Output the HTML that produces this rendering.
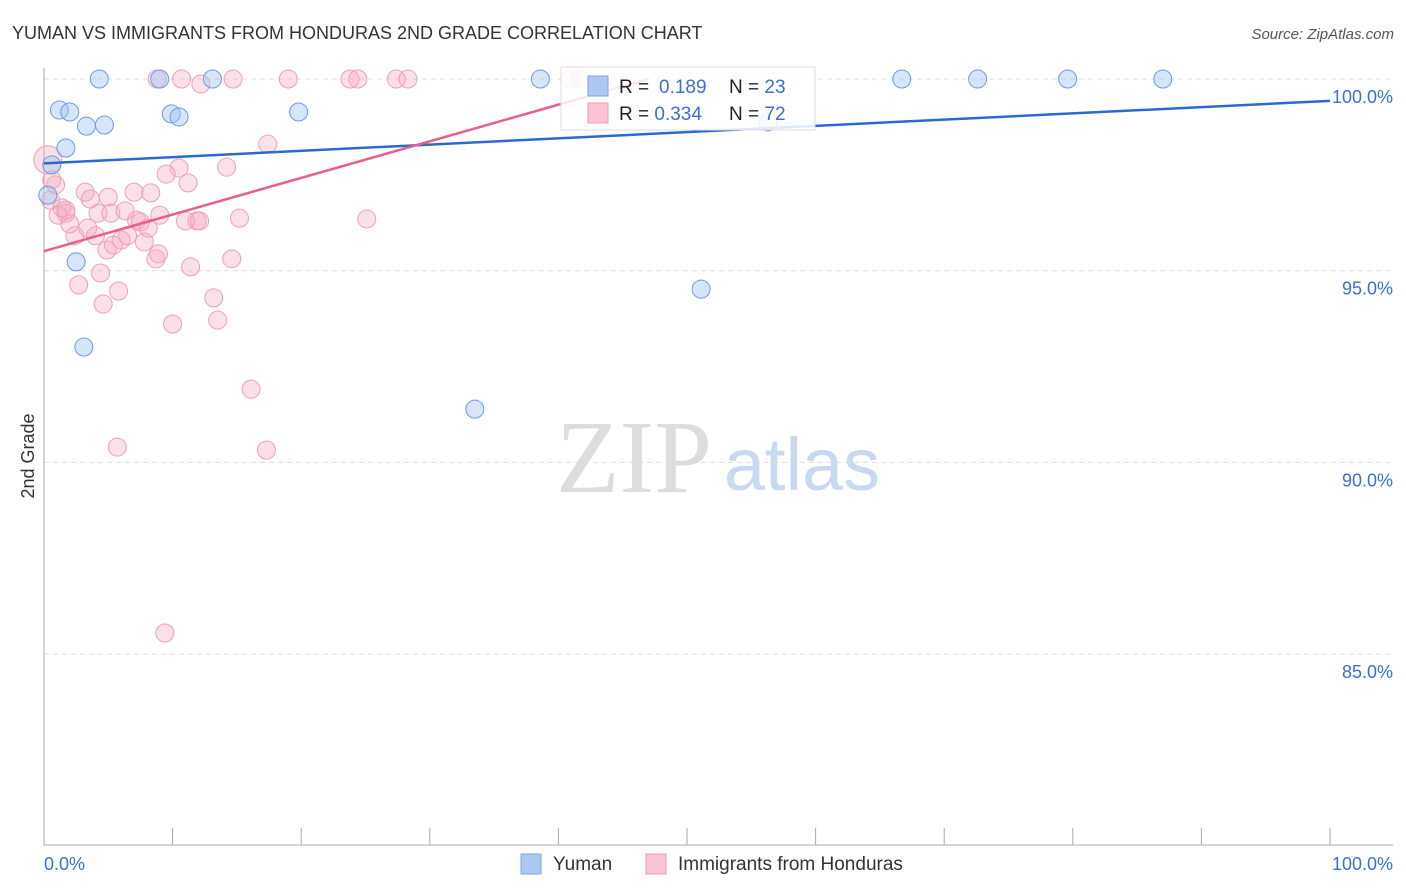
<!DOCTYPE html>
<html><head><meta charset="utf-8"><style>
body{margin:0;background:#fff;font-family:"Liberation Sans",sans-serif;}
svg{display:block}
</style></head><body>
<svg id="chart" width="1406" height="892">
<text x="12" y="39" font-size="18" fill="#333">YUMAN VS IMMIGRANTS FROM HONDURAS 2ND GRADE CORRELATION CHART</text>
<text x="1394" y="39" font-size="15" fill="#555" font-style="italic" text-anchor="end">Source: ZipAtlas.com</text>
<text x="634" y="492" font-size="104" fill="#ddd" font-family="Liberation Serif,serif" text-anchor="middle">ZIP</text>
<text x="802" y="490" font-size="74" fill="#c9daf0" text-anchor="middle">atlas</text>
<text transform="translate(34,456) rotate(-90)" font-size="18" fill="#333" text-anchor="middle">2nd Grade</text>
<g id="grid"></g><g id="marks"></g>
<g>
<rect x="561" y="67" width="254" height="63" fill="#fff" fill-opacity="0.85" stroke="#ddd"/>
<rect x="588" y="76" width="20" height="20" fill="#aac8f2" stroke="#7aa6e4"/>
<rect x="588" y="103" width="20" height="20" fill="#fbc4d4" stroke="#f09ab4"/>
<text x="619" y="93" font-size="19" fill="#222">R = <tspan fill="#3a70d0" x="659">0.189</tspan></text>
<text x="729" y="93" font-size="19" fill="#222">N = <tspan fill="#3a70d0">23</tspan></text>
<text x="619" y="120" font-size="19" fill="#222">R = <tspan fill="#3a70d0">0.334</tspan></text>
<text x="729" y="120" font-size="19" fill="#222">N = <tspan fill="#3a70d0">72</tspan></text>
</g>
<g>
<rect x="521" y="854" width="20" height="20" fill="#aac8f2" stroke="#7aa6e4"/>
<text x="553" y="870" font-size="19" fill="#333">Yuman</text>
<rect x="646" y="854" width="20" height="20" fill="#fbc4d4" stroke="#f09ab4"/>
<text x="678" y="870" font-size="19" fill="#333">Immigrants from Honduras</text>
</g>
</svg>
<script>
const yTicks=[100,95,90,85];
const yTickLabels=["100.0%","95.0%","90.0%","85.0%"];
const xTicks=[0,10,20,30,40,50,60,70,80,90,100];
const blueX=[4.3,9.0,13.1,38.6,66.7,72.6,79.6,87.0,1.2,2.0,3.3,4.7,9.9,10.5,19.8,56.3,1.7,0.6,0.3,2.5,3.1,51.1,33.5];
const blueY=[100,100,100,100,100,100,100,100,99.19,99.14,98.77,98.80,99.09,99.01,99.14,98.88,98.20,97.76,96.97,95.23,93.01,94.52,91.39];
const pinkX=[8.8,10.7,14.7,19.0,23.8,24.4,27.4,28.3,40.9,41.7,12.2,17.4,14.2,10.5,9.5,11.2,7.0,8.3,3.2,3.6,5.0,0.9,0.6,0.3,0.5,1.4,1.1,1.7,2.0,2.4,4.2,5.2,6.3,7.2,7.5,9.0,11.0,11.9,12.1,15.2,25.1,4.0,4.9,5.4,6.0,6.5,7.8,8.7,8.9,4.4,2.7,5.8,4.6,13.2,10.0,13.5,14.6,11.4,16.1,17.3,5.7,9.4,8.1,3.4,1.7];
const pinkY=[100,100,100,100,100,100,100,100,100,100,99.87,98.30,97.70,97.68,97.52,97.29,97.05,97.03,97.05,96.87,96.92,97.24,97.37,97.89,96.84,96.64,96.45,96.50,96.22,95.91,96.50,96.50,96.56,96.32,96.27,96.45,96.30,96.30,96.30,96.37,96.35,95.91,95.54,95.67,95.80,95.91,95.75,95.31,95.44,94.94,94.63,94.47,94.13,94.29,93.61,93.71,95.31,95.10,91.91,90.32,90.40,85.55,96.11,96.11,96.58];
const blueLine=[97.8,0.0163];
const pinkLine=[95.51,0.0955];
const pinkLineEnd=47;
const X=v=>44+v*12.86, Y=v=>79+(100-v)*38.34;
const NS="http://www.w3.org/2000/svg";
const grid=document.getElementById('grid'), marks=document.getElementById('marks');
function mk(tag,attrs,parent){const e=document.createElementNS(NS,tag);for(const k in attrs)e.setAttribute(k,attrs[k]);parent.appendChild(e);return e;}
yTicks.forEach((t,i)=>{
 const l=mk('line',{x1:44,x2:1393,y1:Y(t),y2:Y(t),stroke:'#ddd','stroke-dasharray':'5,4'},grid);
 
 
 const tx=mk('text',{x:1393,y:Y(t)+24,'font-size':18,fill:'#3a70d0','text-anchor':'end'},grid);
 tx.textContent=yTickLabels[i];
 
 
});
const ax=mk('line',{x1:44,x2:44,y1:68,y2:845,stroke:'#aaa'},grid);


const bx=mk('line',{x1:44,x2:1393,y1:845,y2:845,stroke:'#aaa'},grid);


xTicks.forEach(t=>{const l=mk('line',{x1:X(t),x2:X(t),y1:828,y2:845,stroke:'#aaa'},grid);
 
 });
[[0,'0.0%','start',44],[100,'100.0%','end',1393]].forEach(a=>{const t=mk('text',{x:a[3],y:870,'font-size':18,fill:'#3a70d0','text-anchor':a[2]},grid);t.textContent=a[1];
 
 });
pinkX.forEach((x,i)=>{const c=mk('circle',{cx:X(x),cy:Y(pinkY[i]),r:(i===23?14:9),fill:'rgba(245,165,190,0.35)',stroke:'#f0a0b8','stroke-width':1},marks);
 
 });
blueX.forEach((x,i)=>{const c=mk('circle',{cx:X(x),cy:Y(blueY[i]),r:9,fill:'rgba(165,198,242,0.45)',stroke:'#6d9de0','stroke-width':1},marks);
 
 });
const bl=mk('line',{x1:X(0),y1:Y(blueLine[0]),x2:X(100),y2:Y(blueLine[0]+blueLine[1]*100),stroke:'#2a6ad0','stroke-width':2.5},marks);


const pl=mk('line',{x1:X(0),y1:Y(pinkLine[0]),x2:X(pinkLineEnd),y2:Y(pinkLine[0]+pinkLine[1]*pinkLineEnd),stroke:'#e8608a','stroke-width':2.5},marks);


</script>
</body></html>
